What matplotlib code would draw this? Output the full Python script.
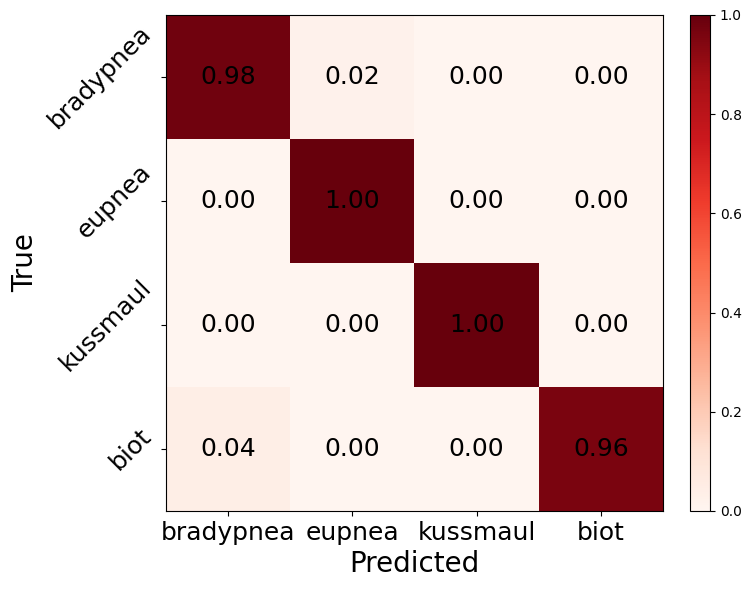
import matplotlib
matplotlib.use('Agg')
import matplotlib.pyplot as plt
import numpy as np

classes = ['bradypnea', 'eupnea', 'kussmaul', 'biot']
cm = np.array([[0.98, 0.02, 0.00, 0.00],
               [0.00, 1.00, 0.00, 0.00],
               [0.00, 0.00, 1.00, 0.00],
               [0.04, 0.00, 0.00, 0.96]])

fig = plt.figure(figsize=(7.56, 5.89), dpi=100)
ax = fig.add_axes([166/756, 1-511/589, 497/756, 496/589])
cax = fig.add_axes([690/756, 1-511/589, 20/756, 496/589])

im = ax.imshow(cm, cmap='Reds', vmin=0, vmax=1, aspect='auto')
fig.colorbar(im, cax=cax)

for i in range(4):
    for j in range(4):
        ax.text(j, i, '%.2f' % cm[i, j], ha='center', va='center', fontsize=18, color='black')

ax.set_xticks(range(4))
ax.set_xticklabels(classes, fontsize=18)
ax.set_yticks(range(4))
ax.set_yticklabels(classes, fontsize=18, rotation=45, va='center')
ax.set_xlabel('Predicted', fontsize=20)
ax.set_ylabel('True', fontsize=20)

fig.savefig('out.png', dpi=100)
